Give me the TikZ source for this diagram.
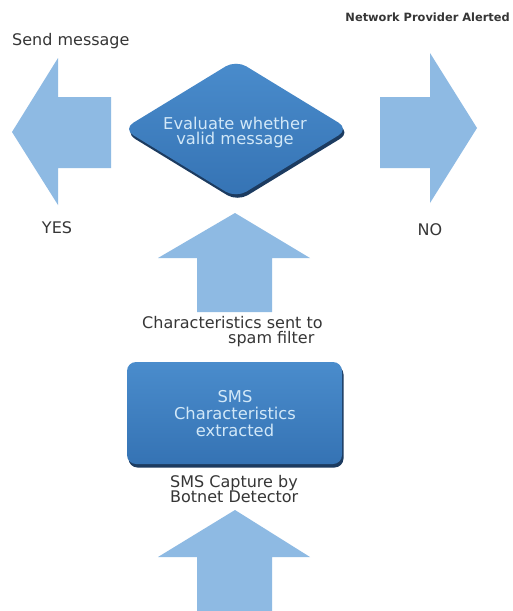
\documentclass[tikz,border=0pt]{standalone}
\usepackage{fontspec}
\setmainfont{DejaVu Sans}
\usetikzlibrary{shapes.geometric,shadows}

\definecolor{arrowblue}{HTML}{8EBAE3}
\definecolor{shapetop}{HTML}{4A8CCC}
\definecolor{shapebot}{HTML}{3573B4}
\definecolor{rim}{HTML}{1C3B60}
\definecolor{shapetext}{HTML}{D2E8F8}
\definecolor{labeltext}{HTML}{363636}

\begin{document}
% tight line spacing for multi-line labels
\lineskiplimit=-30pt
\begin{tikzpicture}[x=1pt,y=-1pt,
  fatarrow/.style={fill=arrowblue,draw=none},
  lbl/.style={text=labeltext,inner sep=0pt,font=\fontsize{16}{15}\selectfont},
  hdr/.style={text=labeltext,inner sep=0pt,font=\fontsize{11.4}{13}\selectfont\bfseries},
  shapetxt/.style={text=shapetext,inner sep=0pt,align=center},
  solid3d/.style={top color=shapetop,bottom color=shapebot,draw=none,
    inner sep=0pt,
    general shadow={fill=rim,shadow xshift=1.5pt,shadow yshift=-3.5pt}},
  decision/.style={solid3d,diamond,aspect=1.64,minimum width=226pt,minimum height=138pt,
    rounded corners=12pt},
  stepbox/.style={solid3d,rectangle,rounded corners=9pt,minimum width=215pt,
    minimum height=102pt}
]
\fill[white] (0,0) rectangle (513,611);
\useasboundingbox (0,0) rectangle (513,611);

% block arrows
\fill[fatarrow] (12,132) -- (58,58) -- (58,97) -- (111,97) -- (111,168)
  -- (58,168) -- (58,205) -- cycle;
\fill[fatarrow] (477,128) -- (430,203) -- (430,168) -- (380,168) -- (380,97)
  -- (430,97) -- (430,53) -- cycle;
\fill[fatarrow] (235,213) -- (310,258) -- (272,258) -- (272,312) -- (197,312)
  -- (197,258) -- (158,258) -- cycle;
\fill[fatarrow] (235,510) -- (310,557) -- (272,557) -- (272,611) -- (197,611)
  -- (197,557) -- (158,557) -- cycle;

% process shapes and their texts
\node[decision] (eval) at (236,129) {};
\node[shapetxt,font=\fontsize{16.3}{15}\selectfont] (evaltxt) at (235,132)
  {Evaluate whether\\valid message};
\node[stepbox] (sms) at (234.5,413) {};
\node[shapetxt,font=\fontsize{16.3}{17}\selectfont] (smstxt) at (235,414)
  {SMS\\Characteristics\\extracted};

% labels
\node[lbl,anchor=base west] (send) at (12,45) {Send message};
\node[hdr,anchor=base east] (alert) at (510,21) {Network Provider Alerted};
\node[lbl,anchor=base] (yes) at (57,233) {YES};
\node[lbl,anchor=base] (no) at (430,235) {NO};
\node[lbl,anchor=west,align=left] (spam) at (142,332)
  {Characteristics sent to\\\hspace*{86pt}spam filter};
\node[lbl,anchor=west,align=left] (capture) at (170,489)
  {SMS Capture by\\Botnet Detector};
\end{tikzpicture}
\end{document}
